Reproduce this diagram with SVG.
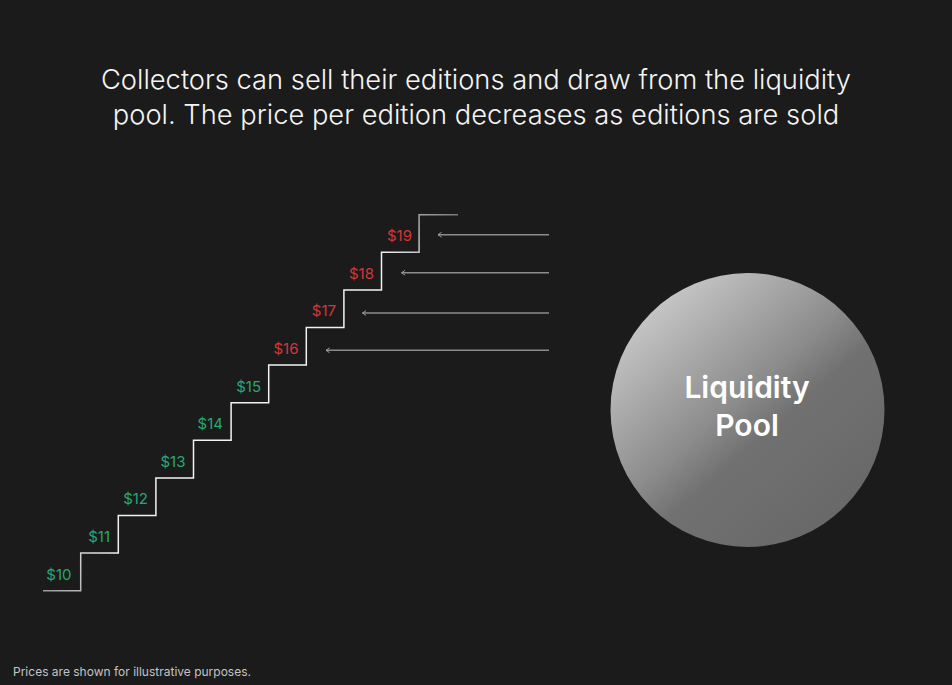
<svg xmlns="http://www.w3.org/2000/svg" width="952" height="685" viewBox="0 0 952 685">
<defs>
<linearGradient id="poolGrad" x1="0.15" y1="0.1" x2="0.85" y2="0.9">
<stop offset="0" stop-color="#c8c8c8"/>
<stop offset="0.45" stop-color="#8c8c8c"/>
<stop offset="0.6" stop-color="#717171"/>
<stop offset="1" stop-color="#686868"/>
</linearGradient>
<linearGradient id="stairGrad" gradientUnits="userSpaceOnUse" x1="43" y1="591" x2="458" y2="214">
<stop offset="0" stop-color="#9a9a9a"/>
<stop offset="0.15" stop-color="#f2f2f2"/>
<stop offset="0.85" stop-color="#f2f2f2"/>
<stop offset="1" stop-color="#777"/>
</linearGradient>
<marker id="arrow" viewBox="0 0 10 10" refX="8" refY="5" markerWidth="6" markerHeight="6" orient="auto" markerUnits="userSpaceOnUse">
<path d="M2,1 L8,5 L2,9" fill="none" stroke="#a0a0a0" stroke-width="1.6"/>
</marker>
<style>
.title{font-family:Inter,"Liberation Sans",sans-serif;font-size:27.3px;font-weight:300;fill:#f4f4f4;text-anchor:middle}
.price{font-family:Inter,"Liberation Sans",sans-serif;font-size:15px;text-anchor:end}
.up{fill:#27a872}
.down{fill:#d0383a}
.arr{stroke:#8c8c8c;stroke-width:1.5;fill:none}
.pool{font-family:Inter,"Liberation Sans",sans-serif;font-size:30px;font-weight:600;fill:#ffffff;text-anchor:middle}
.note{font-family:Inter,"Liberation Sans",sans-serif;font-size:12px;fill:#c4c4c4}
</style>
</defs>
<rect width="952" height="685" fill="#1b1b1b"/>
<g id="title">
<text class="title" x="476" y="89">Collectors can sell their editions and draw from the liquidity</text>
<text class="title" x="476" y="124">pool. The price per edition decreases as editions are sold</text>
</g>
<g id="stairs">
<path d="M43,590.7 H80.7 V553.1 H118.3 V515.5 H155.9 V477.9 H193.5 V440.3 H231.1 V402.7 H268.7 V365.1 H306.3 V327.5 H343.9 V289.9 H381.5 V252.3 H419.1 V214.7 H458" fill="none" stroke="url(#stairGrad)" stroke-width="1.5"/>
</g>
<g id="prices">
<text class="price up" x="71.5" y="579.5">$10</text>
<text class="price up" x="110" y="541.9">$11</text>
<text class="price up" x="148" y="504.3">$12</text>
<text class="price up" x="185.5" y="466.7">$13</text>
<text class="price up" x="223" y="429.1">$14</text>
<text class="price up" x="261" y="391.5">$15</text>
<text class="price down" x="298.5" y="353.9">$16</text>
<text class="price down" x="336" y="316.3">$17</text>
<text class="price down" x="374" y="278.7">$18</text>
<text class="price down" x="412" y="241.1">$19</text>
</g>
<g id="connectors">
<line class="arr" x1="549" y1="234.7" x2="438" y2="234.7" marker-end="url(#arrow)"/>
<line class="arr" x1="549" y1="272.7" x2="401.5" y2="272.7" marker-end="url(#arrow)"/>
<line class="arr" x1="549" y1="313" x2="362.5" y2="313" marker-end="url(#arrow)"/>
<line class="arr" x1="549" y1="350.3" x2="326" y2="350.3" marker-end="url(#arrow)"/>
</g>
<g id="liquidity-pool">
<circle cx="747.5" cy="410" r="137" fill="url(#poolGrad)"/>
<text class="pool" x="747" y="397.5">Liquidity</text>
<text class="pool" x="747" y="436">Pool</text>
</g>
<g id="footnote">
<text class="note" x="13" y="676">Prices are shown for illustrative purposes.</text>
</g>
</svg>
